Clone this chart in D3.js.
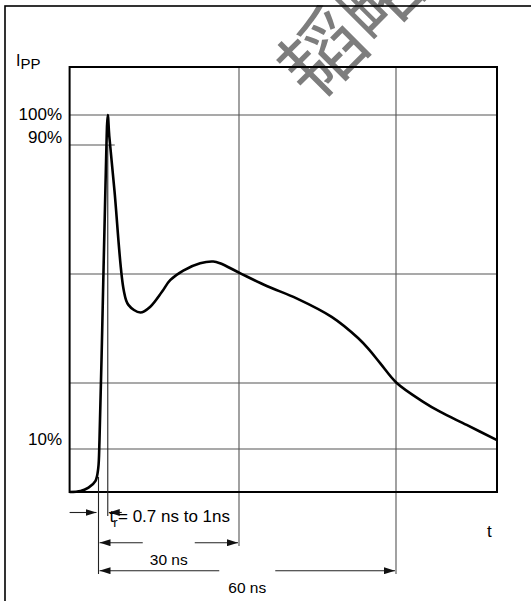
<!DOCTYPE html>
<html>
<head>
<meta charset="utf-8">
<script src="https://cdn.jsdelivr.net/npm/d3@7"></script>
<style>
  body { margin: 0; background: #fff; }
  svg { display: block; font-family: "Liberation Sans", Arial, sans-serif; }
</style>
</head>
<body>
<script>
// pulse waveform, time in ns (0 = 10% crossing), current in % of Ipp
const timeNs = [-6.17, -3.83, -2.13, -0.64, -0.06, 0.21, 0.79, 1.49, 1.98, 2.3, 3.4, 5.38, 6.38, 8.94,
  11.06, 13.55, 15.3, 18.1, 21.7, 24.5, 25.96, 30.19, 35.3, 41.0, 47.7, 52.8, 54.9, 57.0,
  60.2, 65.2, 68.4, 73.5, 79.3];
const currentPct = [0, 0.23, 1.0, 2.6, 5.5, 12.7, 44.6, 80.6, 100, 93, 79.5, 55.6, 51.5, 49.4,
  51.0, 55.1, 58.3, 60.8, 62.5, 62.9, 62.5, 60.2, 56.7, 53.3, 48.2, 42.3, 39.1, 35.4,
  29.9, 24.3, 21.3, 17.3, 12.7];

const gridTimes = [30, 60];
const gridLevels = [10, 30, 60, 100];
const levelTicks = [100, 90, 10];
const levelTickLabels = ["100%", "90%", "10%"];
const spans = [{to: 30, label: "30 ns"}, {to: 60, label: "60 ns"}];
const riseLabel = "= 0.7 ns to 1ns";
const peakTime = 1.98;

const W = 531, H = 601;
const svg = d3.select("body").append("svg").attr("width", W).attr("height", H);

// schematic, not to scale: piecewise linear scales
const x = d3.scaleLinear().domain([0, 30, 60]).range([98.5, 239, 396]);
const y = d3.scaleLinear().domain([0, 10, 30, 60, 90, 100]).range([492, 449, 383, 274, 145, 115]);
const x0 = x(timeNs[0]), x1 = 497, yTop = y(116), yBot = y(0);

// watermark
svg.append("text")
  .attr("transform", "translate(314,104) rotate(-45)")
  .attr("font-family", "'Noto Sans CJK SC', sans-serif")
  .attr("font-weight", 400)
  .attr("font-size", 82)
  .attr("fill", "#7d7d7d")
  .text("韬略");

// outer frame
svg.append("rect")
  .attr("x", 5).attr("y", 6).attr("width", 560).attr("height", 620)
  .attr("fill", "none").attr("stroke", "#000").attr("stroke-width", 1.6);

// grid
const grid = svg.append("g").attr("stroke", "#555").attr("stroke-width", 1.1);
grid.selectAll("line.h").data(gridLevels).join("line")
  .attr("x1", x0).attr("x2", x1)
  .attr("y1", d => y(d)).attr("y2", d => y(d));
grid.append("line")
  .attr("x1", x0).attr("x2", x(peakTime) + 7)
  .attr("y1", y(90)).attr("y2", y(90));
grid.selectAll("line.v").data(gridTimes).join("line")
  .attr("x1", d => x(d)).attr("x2", d => x(d))
  .attr("y1", yTop).attr("y2", (d, i) => i === 0 ? 546 : 574);

// plot frame
svg.append("rect")
  .attr("x", x0).attr("y", yTop).attr("width", x1 - x0).attr("height", yBot - yTop)
  .attr("fill", "none").attr("stroke", "#000").attr("stroke-width", 2);

// waveform
const line = d3.line()
  .x((d, i) => x(timeNs[i]))
  .y(d => y(d))
  .curve(d3.curveCatmullRom.alpha(0.5));
svg.append("path")
  .attr("d", line(currentPct))
  .attr("fill", "none").attr("stroke", "#000")
  .attr("stroke-width", 2.6).attr("stroke-linejoin", "miter");

// level labels
const labelDy = [5, -2, -4];
svg.selectAll("text.lvl").data(levelTicks).join("text")
  .attr("x", 62).attr("y", (d, i) => y(d) + labelDy[i])
  .attr("text-anchor", "end").attr("font-size", 17)
  .text((d, i) => levelTickLabels[i]);

// axis titles
const ipp = svg.append("text").attr("x", 16).attr("y", 66).attr("font-size", 16);
ipp.append("tspan").text("I");
ipp.append("tspan").attr("font-size", 15).attr("dy", 3).text("PP");
svg.append("text").attr("x", 487).attr("y", 537).attr("font-size", 17).text("t");

// dimension lines
const defs = svg.append("defs");
defs.append("marker").attr("id", "ah")
  .attr("markerUnits", "userSpaceOnUse")
  .attr("markerWidth", 11).attr("markerHeight", 7)
  .attr("refX", 11).attr("refY", 3.5).attr("orient", "auto")
  .append("path").attr("d", "M0,0L11,3.5L0,7Z").attr("fill", "#111");

const dim = svg.append("g").attr("stroke", "#222").attr("stroke-width", 1.1).attr("fill", "none");
dim.append("line").attr("x1", x(0)).attr("x2", x(0)).attr("y1", y(3.5)).attr("y2", 574);
dim.append("line").attr("x1", x(peakTime)).attr("x2", x(peakTime)).attr("y1", y(90)).attr("y2", 516);

const arrow = (xa, xb, yy) => dim.append("line")
  .attr("x1", xa).attr("x2", xb).attr("y1", yy).attr("y2", yy)
  .attr("marker-end", "url(#ah)");

arrow(x0, x(0) - 2, 512.5);
arrow(x(peakTime) + 14, x(peakTime) + 1, 512.5);

const spanY = [542.7, 570.7];
const gapHalf = [26, 28];
spans.forEach((s, i) => {
  const mid = (x(0) + x(s.to)) / 2;
  arrow(mid - gapHalf[i], x(0) + 1, spanY[i]);
  arrow(mid + gapHalf[i], x(s.to) - 1, spanY[i]);
  svg.append("text").attr("x", mid).attr("y", spanY[i] + 22)
    .attr("text-anchor", "middle").attr("font-size", 15.5).text(s.label);
});

// rise-time label
const tr = svg.append("text").attr("x", 109.5).attr("y", 522).attr("font-size", 17);
tr.append("tspan").text("t");
tr.append("tspan").attr("font-size", 13).attr("dy", 5).attr("dx", -1).text("r");
svg.append("text").attr("x", 118).attr("y", 522).attr("font-size", 17).text(riseLabel);
</script>
</body>
</html>
